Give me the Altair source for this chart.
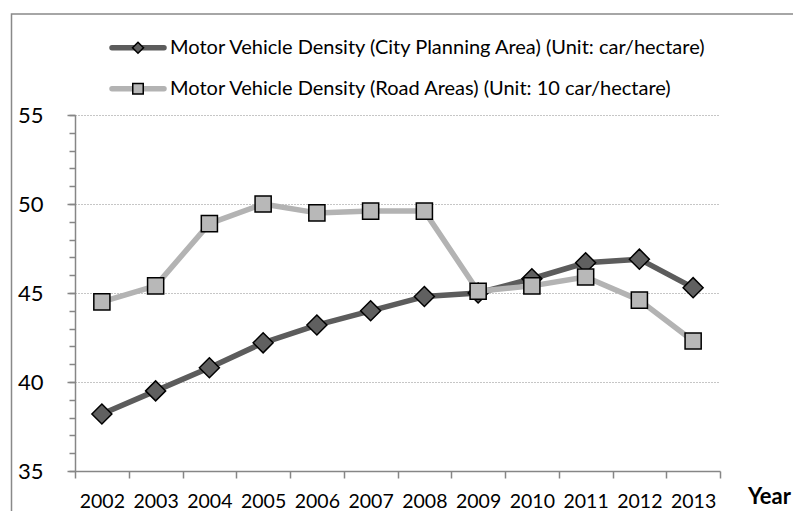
import altair as alt
import pandas as pd

# ---- data ----
years = [2002, 2003, 2004, 2005, 2006, 2007, 2008, 2009, 2010, 2011, 2012, 2013]
city_density = [38.2, 39.5, 40.8, 42.2, 43.2, 44.0, 44.8, 45.0, 45.8, 46.7, 46.9, 45.3]
road_density = [44.5, 45.4, 48.9, 50.0, 49.5, 49.6, 49.6, 45.1, 45.4, 45.9, 44.6, 42.3]
series_names = [
    "Motor Vehicle Density (City Planning Area) (Unit: car/hectare)",
    "Motor Vehicle Density (Road Areas) (Unit: 10 car/hectare)",
]
y_major_ticks = [35, 40, 45, 50, 55]
y_minor_ticks = list(range(35, 56))
x_title = "Year"

FONT = "Lato"
DARK = "#5c5c5c"
DARK_FILL = "#606060"
LIGHT = "#b3b3b3"
LIGHT_FILL = "#b8b8b8"
AXIS_GRAY = "#868686"

df = pd.DataFrame({"year": years, "city": city_density, "road": road_density})

x_scale = alt.Scale(domain=[years[0] - 0.5, years[-1] + 0.5], nice=False, zero=False)
y_scale = alt.Scale(domain=[y_major_ticks[0], y_major_ticks[-1]], nice=False, zero=False)

x_tick_values = [y - 0.5 for y in years] + [years[-1] + 0.5]

x_tick_axis = alt.Axis(
    orient="bottom", values=x_tick_values, labels=False, title=None, grid=False,
    tickSize=7, tickColor=AXIS_GRAY, tickWidth=1.5,
    domainColor=AXIS_GRAY, domainWidth=1.5,
)
x_label_axis = alt.Axis(
    orient="bottom", values=years, ticks=False, tickSize=0, domain=False, grid=False,
    format="d", labelFont=FONT, labelFontSize=19.5, labelColor="black",
    labelPadding=21, labelFlush=False, labelOverlap=False,
    title=x_title, titleFont=FONT, titleFontSize=22, titleFontWeight="bold",
    titleColor="black", titleX=694, titleY=32, titleAlign="center",
    titleBaseline="alphabetic",
)
y_major_axis = alt.Axis(
    orient="left", values=y_major_ticks, title=None,
    tickSize=8, tickColor=AXIS_GRAY, tickWidth=1.5,
    domainColor=AXIS_GRAY, domainWidth=1.5,
    labelFont=FONT, labelFontSize=22, labelColor="black", labelPadding=24,
    grid=True, gridColor="#8c8c8c", gridDash=[1, 2], gridWidth=1,
)
y_minor_axis = alt.Axis(
    orient="left", values=y_minor_ticks, title=None, labels=False, domain=False,
    grid=False, tickSize=6, tickColor=AXIS_GRAY, tickWidth=1.5,
)

frame = alt.Chart(pd.DataFrame({"k": [0]})).mark_rect(
    fillOpacity=0, stroke="#898989", strokeWidth=1.5
).encode(
    x=alt.value(-63.5), x2=alt.value(760), y=alt.value(-101), y2=alt.value(430)
)

city_line = alt.Chart(df).mark_line(
    color=DARK, strokeWidth=5.5, strokeJoin="round"
).encode(
    x=alt.X("year:Q", scale=x_scale, axis=x_tick_axis),
    y=alt.Y("city:Q", scale=y_scale, axis=y_major_axis),
)
city_pts = alt.Chart(df).mark_point(
    shape="diamond", filled=True, fill=DARK_FILL, stroke="black",
    strokeWidth=1.5, size=400, opacity=1
).encode(
    x=alt.X("year:Q", scale=x_scale, axis=None),
    y=alt.Y("city:Q", scale=y_scale, axis=None),
)
road_line = alt.Chart(df).mark_line(
    color=LIGHT, strokeWidth=5.5, strokeJoin="round"
).encode(
    x=alt.X("year:Q", scale=x_scale, axis=None),
    y=alt.Y("road:Q", scale=y_scale, axis=None),
)
road_pts = alt.Chart(df).mark_point(
    shape="square", filled=True, fill=LIGHT_FILL, stroke="black",
    strokeWidth=1.5, size=260, opacity=1
).encode(
    x=alt.X("year:Q", scale=x_scale, axis=x_label_axis),
    y=alt.Y("road:Q", scale=y_scale, axis=y_minor_axis),
)

# ---- legend (drawn manually: line + marker + label) ----
legend_layers = []
legend_specs = [
    (series_names[0], DARK, DARK_FILL, "diamond", 120, -67.3),
    (series_names[1], LIGHT, LIGHT_FILL, "square", 110, -26.3),
]
for name, lc, fc, shp, sz, yy in legend_specs:
    ldf = pd.DataFrame({"name": [name]})
    legend_layers.append(
        alt.Chart(ldf).mark_rule(color=lc, strokeWidth=5.5, strokeCap="round").encode(
            x=alt.value(37), x2=alt.value(89), y=alt.value(yy)
        )
    )
    legend_layers.append(
        alt.Chart(ldf).mark_point(
            shape=shp, filled=True, fill=fc, stroke="black", strokeWidth=1.5,
            size=sz, opacity=1
        ).encode(x=alt.value(63), y=alt.value(yy))
    )
    legend_layers.append(
        alt.Chart(ldf).mark_text(
            align="left", baseline="middle", font=FONT, fontSize=20, color="black"
        ).encode(x=alt.value(95), y=alt.value(yy), text="name:N")
    )

chart = alt.layer(
    frame, city_line, city_pts, road_line, road_pts, *legend_layers
).resolve_axis(
    x="independent", y="independent"
).properties(
    width=645, height=356,
    autosize=alt.AutoSizeParams(type="none"),
    padding={"left": 67, "top": 107, "right": 73, "bottom": 40},
    background="white",
).configure_view(stroke=None)

chart.save("out.html", embed_options={"renderer": "svg", "actions": False})
